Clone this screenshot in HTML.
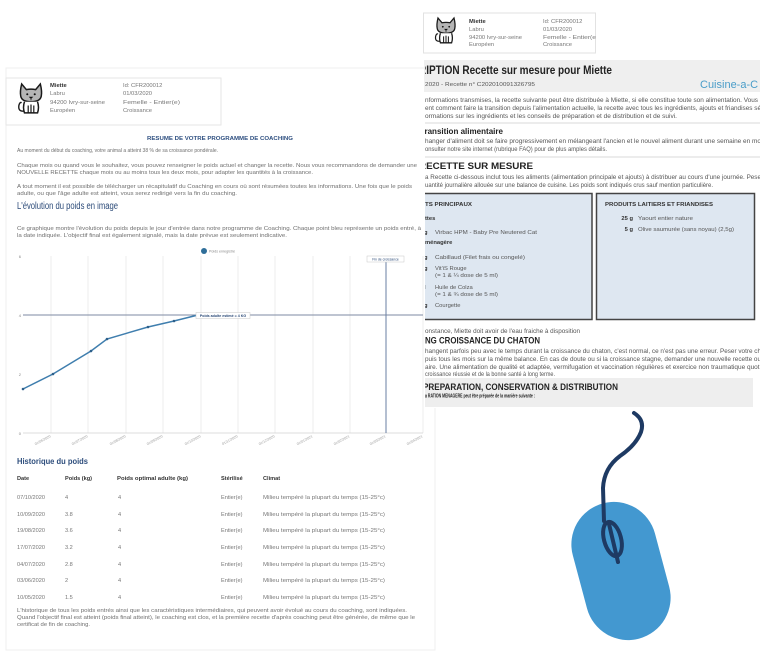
<!DOCTYPE html>
<html><head><meta charset="utf-8"><style>
html,body{margin:0;padding:0;background:#fff}
svg{display:block}
</style></head><body>
<svg width="760" height="663" viewBox="0 0 760 663" xmlns="http://www.w3.org/2000/svg" font-family="Liberation Sans, sans-serif">
<defs>
<symbol id="cat" viewBox="0 0 30 34">
<path d="M5,2 L10,8 Q15,7 20,8 L25,2 Q27,10 26,15 Q25,21 15,21 Q5,21 4,15 Q3,10 5,2 Z" fill="#b5b5b5" stroke="#1a1a1a" stroke-width="1.6"/>
<circle cx="11" cy="13" r="1.1" fill="#111"/><circle cx="19" cy="13" r="1.1" fill="#111"/>
<path d="M13.5,16 L16.5,16 L15,17.5 Z M15,17.5 L15,19.5" stroke="#111" stroke-width="0.8" fill="#111"/>
<path d="M8,21 Q6,27 8,33 L22,33 Q24,27 22,21" fill="#fff" stroke="#1a1a1a" stroke-width="1.6"/>
<path d="M12,25 L12,33 M15,24 L15,33 M18,25 L18,33" stroke="#1a1a1a" stroke-width="1.3"/>
<path d="M8,31 Q1,32 2,25 Q3,21 5,22" fill="none" stroke="#1a1a1a" stroke-width="1.5"/>
</symbol>
</defs>

<!-- LEFT DOCUMENT -->
<rect x="6" y="68" width="429" height="582" fill="#fff" stroke="#efefef" stroke-width="1"/>
<rect x="6" y="78" width="215" height="47" fill="#fff" stroke="#e6e6e6" stroke-width="1"/>
<use href="#cat" x="17" y="82" width="28" height="32"/>
<g font-size="5.8" fill="#777">
<text x="50" y="87" font-weight="bold" fill="#333">Miette</text>
<text x="50" y="95">Labru</text>
<text x="50" y="104" textLength="55" lengthAdjust="spacingAndGlyphs">94200 Ivry-sur-seine</text>
<text x="50" y="112">Européen</text>
<text x="123" y="87">Id: CFR200012</text>
<text x="123" y="95">01/03/2020</text>
<text x="123" y="104" textLength="57" lengthAdjust="spacingAndGlyphs">Femelle - Entier(e)</text>
<text x="123" y="112">Croissance</text>
</g>

<text x="147" y="140" font-size="5.8" font-weight="bold" fill="#2e4f80" textLength="146" lengthAdjust="spacingAndGlyphs">RESUME DE VOTRE PROGRAMME DE COACHING</text>
<g font-size="5.6" fill="#6f6f6f">
<text x="17" y="152" textLength="201" lengthAdjust="spacingAndGlyphs">Au moment du début du coaching, votre animal a atteint 38 % de sa croissance pondérale.</text>
<text x="17" y="167" textLength="400" lengthAdjust="spacingAndGlyphs">Chaque mois ou quand vous le souhaitez, vous pouvez renseigner le poids actuel et changer la recette. Nous vous recommandons de demander une</text>
<text x="17" y="174" textLength="296" lengthAdjust="spacingAndGlyphs">NOUVELLE RECETTE chaque mois ou au moins tous les deux mois, pour adapter les quantités à la croissance.</text>
<text x="17" y="188" textLength="395" lengthAdjust="spacingAndGlyphs">A tout moment il est possible de télécharger un récapitulatif du Coaching en cours où sont résumées toutes les informations. Une fois que le poids</text>
<text x="17" y="195" textLength="220" lengthAdjust="spacingAndGlyphs">adulte, ou que l'âge adulte est atteint, vous serez redirigé vers la fin du coaching.</text>
<text x="17" y="230" textLength="404" lengthAdjust="spacingAndGlyphs">Ce graphique montre l'évolution du poids depuis le jour d'entrée dans notre programme de Coaching. Chaque point bleu représente un poids entré, à</text>
<text x="17" y="237" textLength="270" lengthAdjust="spacingAndGlyphs">la date indiquée. L'objectif final est également signalé, mais la date prévue est seulement indicative.</text>
</g>
<text x="17" y="209" font-size="10" fill="#2b4a78" textLength="101" lengthAdjust="spacingAndGlyphs">L'évolution du poids en image</text>

<!-- chart -->
<g stroke="#e9e9e9" stroke-width="0.8">
<line x1="51" y1="256" x2="51" y2="433"/><line x1="88" y1="256" x2="88" y2="433"/>
<line x1="126" y1="256" x2="126" y2="433"/><line x1="163" y1="256" x2="163" y2="433"/>
<line x1="201" y1="256" x2="201" y2="433"/><line x1="238" y1="256" x2="238" y2="433"/>
<line x1="275" y1="256" x2="275" y2="433"/><line x1="313" y1="256" x2="313" y2="433"/>
<line x1="350" y1="256" x2="350" y2="433"/><line x1="423" y1="256" x2="423" y2="433"/>
</g>
<line x1="23" y1="433" x2="423" y2="433" stroke="#d0d0d0" stroke-width="0.8"/>
<line x1="23" y1="315" x2="423" y2="315" stroke="#7d8aa3" stroke-width="1"/>
<line x1="386" y1="262" x2="386" y2="433" stroke="#6a7fa3" stroke-width="1"/>
<g font-size="4" fill="#888" text-anchor="end">
<text x="21" y="258">6</text><text x="21" y="317">4</text><text x="21" y="376">2</text><text x="21" y="435">0</text>
</g>
<circle cx="204" cy="251" r="3" fill="#2e6e99"/>
<text x="209" y="252.5" font-size="3.6" fill="#888">Poids enregistré</text>
<rect x="367" y="256" width="37" height="6" fill="#fff" stroke="#c8c8c8" stroke-width="0.5"/>
<text x="385.5" y="260.3" font-size="3.4" fill="#2b4a78" text-anchor="middle">Fin de croissance</text>
<polyline points="23,389 53,374 91,351 107,339 148,327 174,321 198,315" fill="none" stroke="#3f7eae" stroke-width="1.5"/>
<g fill="#2e5f8a">
<circle cx="23" cy="389" r="1.3"/><circle cx="53" cy="374" r="1.3"/><circle cx="91" cy="351" r="1.3"/>
<circle cx="107" cy="339" r="1.3"/><circle cx="148" cy="327" r="1.3"/><circle cx="174" cy="321" r="1.3"/>
</g>
<rect x="196" y="312.5" width="54" height="6" fill="#fff" stroke="#c8c8c8" stroke-width="0.5"/>
<text x="223" y="316.8" font-size="3.6" font-weight="bold" fill="#2b4a78" text-anchor="middle">Poids adulte estimé = 4 KG</text>
<g font-size="3.5" fill="#999" text-anchor="end">
<text transform="translate(51,437) rotate(-28)">01/06/2020</text>
<text transform="translate(88,437) rotate(-28)">01/07/2020</text>
<text transform="translate(126,437) rotate(-28)">01/08/2020</text>
<text transform="translate(163,437) rotate(-28)">01/09/2020</text>
<text transform="translate(201,437) rotate(-28)">01/10/2020</text>
<text transform="translate(238,437) rotate(-28)">01/11/2020</text>
<text transform="translate(275,437) rotate(-28)">01/12/2020</text>
<text transform="translate(313,437) rotate(-28)">01/01/2021</text>
<text transform="translate(350,437) rotate(-28)">01/02/2021</text>
<text transform="translate(386,437) rotate(-28)">01/03/2021</text>
<text transform="translate(423,437) rotate(-28)">01/04/2021</text>
</g>

<!-- table -->
<text x="17" y="464" font-size="8.5" font-weight="bold" fill="#2d4d7c" textLength="71" lengthAdjust="spacingAndGlyphs">Historique du poids</text>
<g font-size="5.6" font-weight="bold" fill="#333">
<text x="17" y="480">Date</text>
<text x="65" y="480">Poids (kg)</text>
<text x="117" y="480" textLength="71" lengthAdjust="spacingAndGlyphs">Poids optimal adulte (kg)</text>
<text x="221" y="480">Stérilisé</text>
<text x="263" y="480">Climat</text>
</g>
<g font-size="5.6" fill="#777">
<text x="17" y="499">07/10/2020</text><text x="65" y="499">4</text><text x="118" y="499">4</text><text x="221" y="499">Entier(e)</text><text x="263" y="499" textLength="122" lengthAdjust="spacingAndGlyphs">Milieu tempéré la plupart du temps (15-25°c)</text>
<text x="17" y="516">10/09/2020</text><text x="65" y="516">3.8</text><text x="118" y="516">4</text><text x="221" y="516">Entier(e)</text><text x="263" y="516" textLength="122" lengthAdjust="spacingAndGlyphs">Milieu tempéré la plupart du temps (15-25°c)</text>
<text x="17" y="532">19/08/2020</text><text x="65" y="532">3.6</text><text x="118" y="532">4</text><text x="221" y="532">Entier(e)</text><text x="263" y="532" textLength="122" lengthAdjust="spacingAndGlyphs">Milieu tempéré la plupart du temps (15-25°c)</text>
<text x="17" y="549">17/07/2020</text><text x="65" y="549">3.2</text><text x="118" y="549">4</text><text x="221" y="549">Entier(e)</text><text x="263" y="549" textLength="122" lengthAdjust="spacingAndGlyphs">Milieu tempéré la plupart du temps (15-25°c)</text>
<text x="17" y="566">04/07/2020</text><text x="65" y="566">2.8</text><text x="118" y="566">4</text><text x="221" y="566">Entier(e)</text><text x="263" y="566" textLength="122" lengthAdjust="spacingAndGlyphs">Milieu tempéré la plupart du temps (15-25°c)</text>
<text x="17" y="582">03/06/2020</text><text x="65" y="582">2</text><text x="118" y="582">4</text><text x="221" y="582">Entier(e)</text><text x="263" y="582" textLength="122" lengthAdjust="spacingAndGlyphs">Milieu tempéré la plupart du temps (15-25°c)</text>
<text x="17" y="599">10/05/2020</text><text x="65" y="599">1.5</text><text x="118" y="599">4</text><text x="221" y="599">Entier(e)</text><text x="263" y="599" textLength="122" lengthAdjust="spacingAndGlyphs">Milieu tempéré la plupart du temps (15-25°c)</text>
</g>
<g font-size="5.6" fill="#6f6f6f">
<text x="17" y="612" textLength="390" lengthAdjust="spacingAndGlyphs">L'historique de tous les poids entrés ainsi que les caractéristiques intermédiaires, qui peuvent avoir évolué au cours du coaching, sont indiquées.</text>
<text x="17" y="619" textLength="398" lengthAdjust="spacingAndGlyphs">Quand l'objectif final est atteint (poids final atteint), le coaching est clos, et la première recette d'après coaching peut être générée, de même que le</text>
<text x="17" y="626" textLength="73" lengthAdjust="spacingAndGlyphs">certificat de fin de coaching.</text>
</g>

<!-- RIGHT DOCUMENT -->
<rect x="424" y="6" width="336" height="402" fill="#fff"/>
<rect x="423.5" y="13" width="172" height="40" fill="#fff" stroke="#e2e2e2" stroke-width="1"/>
<use href="#cat" x="434" y="14" width="24" height="32"/>
<g font-size="5.8" fill="#777">
<text x="469" y="23" font-weight="bold" fill="#333">Miette</text>
<text x="469" y="31">Labru</text>
<text x="469" y="39" textLength="53" lengthAdjust="spacingAndGlyphs">94200 Ivry-sur-seine</text>
<text x="469" y="46">Européen</text>
<text x="543" y="23">Id: CFR200012</text>
<text x="543" y="31">01/03/2020</text>
<text x="543" y="39" textLength="53" lengthAdjust="spacingAndGlyphs">Femelle - Entier(e</text>
<text x="543" y="46">Croissance</text>
</g>
<rect x="424" y="60" width="336" height="32" fill="#efefef"/>
<clipPath id="rc"><rect x="425" y="0" width="335" height="663"/></clipPath>
<g clip-path="url(#rc)">
<text x="419" y="74" font-size="11.5" font-weight="bold" fill="#222" textLength="193" lengthAdjust="spacingAndGlyphs">RIPTION Recette sur mesure pour Miette</text>
<text x="425" y="86" font-size="5.8" fill="#555" textLength="110" lengthAdjust="spacingAndGlyphs">2020 - Recette n° C202010091326795</text>
<text x="700" y="88" font-size="11" fill="#4a9dc9">Cuisine-a-C</text>

<g font-size="6" fill="#555">
<text x="425" y="102" textLength="333" lengthAdjust="spacingAndGlyphs">nformations transmises, la recette suivante peut être distribuée à Miette, si elle constitue toute son alimentation. Vous</text>
<text x="425" y="110" textLength="336" lengthAdjust="spacingAndGlyphs">ent comment faire la transition depuis l'alimentation actuelle, la recette avec tous les ingrédients, ajouts et friandises sé</text>
<text x="425" y="118" textLength="252" lengthAdjust="spacingAndGlyphs">ormations sur les ingrédients et les conseils de préparation et de distribution et de suivi.</text>
<text x="425" y="143" textLength="336" lengthAdjust="spacingAndGlyphs">hanger d'aliment doit se faire progressivement en mélangeant l'ancien et le nouvel aliment durant une semaine en mo</text>
<text x="425" y="151" textLength="182" lengthAdjust="spacingAndGlyphs">onsulter notre site internet (rubrique FAQ) pour de plus amples détails.</text>
<text x="425" y="179" textLength="336" lengthAdjust="spacingAndGlyphs">a Recette ci-dessous inclut tous les aliments (alimentation principale et ajouts) à distribuer au cours d'une journée. Pese</text>
<text x="425" y="187" textLength="288" lengthAdjust="spacingAndGlyphs">uantité journalière allouée sur une balance de cuisine. Les poids sont indiqués crus sauf mention particulière.</text>
</g>
<line x1="424" y1="123" x2="760" y2="123" stroke="#d8d8d8" stroke-width="1"/>
<line x1="424" y1="157" x2="760" y2="157" stroke="#d8d8d8" stroke-width="1"/>
<text x="420" y="134" font-size="8.5" font-weight="bold" fill="#222" textLength="83" lengthAdjust="spacingAndGlyphs">Transition alimentaire</text>
<text x="419" y="169" font-size="9" font-weight="bold" fill="#222" textLength="114" lengthAdjust="spacingAndGlyphs">RECETTE SUR MESURE</text>

<!-- boxes -->
<rect x="418" y="193.5" width="174" height="126" fill="#dee7f1" stroke="#444" stroke-width="1.5"/>
<rect x="596.5" y="193.5" width="158" height="126" fill="#dee7f1" stroke="#444" stroke-width="1.5"/>
<g font-size="5.8" fill="#555">
<text x="425" y="206" font-weight="bold" fill="#333" textLength="47" lengthAdjust="spacingAndGlyphs">TS PRINCIPAUX</text>
<text x="425" y="220" font-weight="bold" fill="#333">ttes</text>
<text x="424" y="234" font-weight="bold" fill="#333">g</text>
<text x="435" y="234" textLength="102" lengthAdjust="spacingAndGlyphs">Virbac HPM - Baby Pre Neutered Cat</text>
<text x="425" y="244" font-weight="bold" fill="#333">ménagère</text>
<text x="424" y="259" font-weight="bold" fill="#333">g</text>
<text x="435" y="259" textLength="90" lengthAdjust="spacingAndGlyphs">Cabillaud (Filet frais ou congelé)</text>
<text x="424" y="270" font-weight="bold" fill="#333">g</text>
<text x="435" y="270">Vit'iS Rouge</text>
<text x="435" y="277" textLength="63" lengthAdjust="spacingAndGlyphs">(= 1 &amp; ¼ dose de 5 ml)</text>
<text x="424" y="289" font-weight="bold" fill="#333">l</text>
<text x="435" y="289">Huile de Colza</text>
<text x="435" y="296" textLength="63" lengthAdjust="spacingAndGlyphs">(= 1 &amp; ¾ dose de 5 ml)</text>
<text x="424" y="307" font-weight="bold" fill="#333">g</text>
<text x="435" y="307">Courgette</text>
<text x="605" y="206" font-weight="bold" fill="#333" textLength="108" lengthAdjust="spacingAndGlyphs">PRODUITS LAITIERS ET FRIANDISES</text>
<text x="633" y="220" font-weight="bold" fill="#333" text-anchor="end">25 g</text>
<text x="638" y="220" textLength="55" lengthAdjust="spacingAndGlyphs">Yaourt entier nature</text>
<text x="633" y="231" font-weight="bold" fill="#333" text-anchor="end">5 g</text>
<text x="638" y="231" textLength="96" lengthAdjust="spacingAndGlyphs">Olive saumurée (sans noyau) (2,5g)</text>
</g>

<g font-size="6" fill="#555">
<text x="425" y="333" textLength="155" lengthAdjust="spacingAndGlyphs">onstance, Miette doit avoir de l'eau fraiche à disposition</text>
<text x="425" y="353" textLength="336" lengthAdjust="spacingAndGlyphs">hangent parfois peu avec le temps durant la croissance du chaton, c'est normal, ce n'est pas une erreur. Peser votre ch</text>
<text x="425" y="361" textLength="336" lengthAdjust="spacingAndGlyphs">puis tous les mois sur la même balance. En cas de doute ou si la croissance stagne, demander une nouvelle recette ou</text>
<text x="425" y="369" textLength="336" lengthAdjust="spacingAndGlyphs">aire. Une alimentation de qualité et adaptée, vermifugation et vaccination régulières et exercice non traumatique quoti</text>
<text x="425" y="376" textLength="130" lengthAdjust="spacingAndGlyphs">croissance réussie et de la bonne santé à long terme.</text>
</g>
<text x="425" y="343.5" font-size="9.5" font-weight="bold" fill="#222" textLength="115" lengthAdjust="spacingAndGlyphs">NG CROISSANCE DU CHATON</text>

<rect x="424" y="378" width="329" height="29" fill="#eeeeee"/>
<text x="423" y="390" font-size="9" font-weight="bold" fill="#222" textLength="195" lengthAdjust="spacingAndGlyphs">PREPARATION, CONSERVATION &amp; DISTRIBUTION</text>
<text x="425" y="397.5" font-size="5.5" font-weight="bold" fill="#222" textLength="110" lengthAdjust="spacingAndGlyphs">a RATION MENAGERE peut être préparée de la manière suivante :</text>
</g>

<!-- mouse -->
<rect x="-42.5" y="-70" width="85" height="140" rx="42.5" ry="42.5" fill="#4398d0" transform="translate(621,571) rotate(-15)"/>
<path d="M634,413 Q645,420 641,432 Q636,445 620,456 Q604,468 603,488 L604,521" fill="none" stroke="#1e3a63" stroke-width="4" stroke-linecap="round" stroke-linejoin="round"/>
<ellipse cx="0" cy="0" rx="8.5" ry="17.5" fill="none" stroke="#1e3a63" stroke-width="4" transform="translate(612.5,539) rotate(-15)"/>
<line x1="609" y1="524" x2="618" y2="562" stroke="#1e3a63" stroke-width="4" stroke-linecap="round"/>
</svg>
</body></html>
